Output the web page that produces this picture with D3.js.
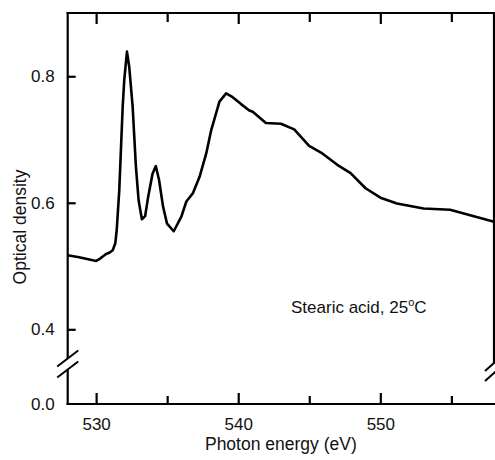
<!DOCTYPE html>
<html>
<head>
<meta charset="utf-8">
<script src="https://cdn.jsdelivr.net/npm/d3@7"></script>
<style>
  html, body { margin: 0; padding: 0; background: #fff; }
  svg { display: block; font-family: "Liberation Sans", Arial, Helvetica, sans-serif; }
</style>
</head>
<body>
<svg id="chart" width="495" height="460"></svg>
<script>
// ---- data ----
const energy = [528.0, 528.8, 530.0, 530.23, 530.47, 530.7, 530.93, 531.17, 531.35, 531.45, 531.63, 531.87, 531.98, 532.17, 532.33, 532.57, 532.8, 532.99, 533.22, 533.45, 533.66, 533.97, 534.2, 534.43, 534.71, 534.99, 535.46, 536.0, 536.35, 536.81, 537.28, 537.75, 538.1, 538.68, 539.15, 539.61, 540.2, 540.78, 541.02, 541.95, 543.0, 543.94, 544.99, 545.92, 546.97, 547.91, 548.96, 550.01, 551.17, 553.04, 554.91, 558.0];
const density = [0.517, 0.514, 0.508, 0.511, 0.515, 0.519, 0.521, 0.525, 0.536, 0.557, 0.62, 0.752, 0.794, 0.839, 0.815, 0.752, 0.657, 0.604, 0.574, 0.579, 0.609, 0.646, 0.658, 0.636, 0.594, 0.567, 0.555, 0.578, 0.602, 0.615, 0.641, 0.678, 0.715, 0.76, 0.773, 0.767, 0.756, 0.746, 0.744, 0.726, 0.725, 0.716, 0.69, 0.678, 0.66, 0.647, 0.623, 0.608, 0.599, 0.591, 0.589, 0.57];
const xMajorTicks = [530, 540, 550];
const xMinorTicks = [535, 545, 555];
const yTicks = [0.4, 0.6, 0.8];
const yZeroTick = [0.0];
const xTitle = "Photon energy (eV)";
const yTitle = "Optical density";
const annotation = "Stearic acid, 25";

// ---- layout ----
const W = 495, H = 460;
const L = 67.7, R = 494, T = 13, B = 404;
const breakGap = 74.7; // px between 0.0 and 0.4 (broken axis)

const svg = d3.select("#chart");

const x = d3.scaleLinear().domain([528, 558]).range([L, R]);
const y = d3.scaleLinear().domain([0, 0.4, 0.9]).range([B, B - breakGap, T]);

const axisColor = "#000";
const g = svg.append("g");

// curve
const line = d3.line().x((d, i) => x(energy[i])).y(d => y(d)).curve(d3.curveLinear);
g.append("path").datum(density)
  .attr("d", line)
  .attr("fill", "none")
  .attr("stroke", "#000")
  .attr("stroke-width", 2.6)
  .attr("stroke-linejoin", "round");

// axes via d3 axis generators (inward ticks)
const bottomMajor = d3.axisBottom(x).tickValues(xMajorTicks).tickSizeInner(-11).tickSizeOuter(0).tickPadding(14).tickFormat(d3.format("d"));
const bottomMinor = d3.axisBottom(x).tickValues(xMinorTicks).tickSizeInner(-8).tickSizeOuter(0).tickFormat("");
const topMajor = d3.axisTop(x).tickValues(xMajorTicks).tickSizeInner(-11).tickSizeOuter(0).tickFormat("");
const topMinor = d3.axisTop(x).tickValues(xMinorTicks).tickSizeInner(-9).tickSizeOuter(0).tickFormat("");
const leftAx = d3.axisLeft(y).tickValues(yTicks).tickSizeInner(-8).tickSizeOuter(0).tickPadding(13).tickFormat(d3.format(".1f"));
const leftZero = d3.axisLeft(y).tickValues(yZeroTick).tickSizeInner(0).tickSizeOuter(0).tickPadding(13).tickFormat(d3.format(".1f"));

function styleAxis(sel) {
  sel.select(".domain").remove();
  sel.selectAll(".tick line").attr("stroke", axisColor).attr("stroke-width", 2.2);
  sel.selectAll(".tick text").attr("fill", "#111").attr("font-size", 17)
    .attr("font-family", '"Liberation Sans", Arial, sans-serif');
}

g.append("g").attr("transform", `translate(0,${B})`).call(bottomMajor).call(styleAxis);
g.append("g").attr("transform", `translate(0,${B})`).call(bottomMinor).call(styleAxis);
g.append("g").attr("transform", `translate(0,${T})`).call(topMajor).call(styleAxis);
g.append("g").attr("transform", `translate(0,${T})`).call(topMinor).call(styleAxis);
g.append("g").attr("transform", `translate(${L},0)`).call(leftAx).call(styleAxis);
g.append("g").attr("transform", `translate(${L},0)`).call(leftZero).call(styleAxis);

// frame lines
const lw = 2.2;
// bottom
g.append("line").attr("x1", L - lw/2).attr("x2", R + 2).attr("y1", B).attr("y2", B).attr("stroke", axisColor).attr("stroke-width", lw);
// top
g.append("line").attr("x1", L - lw/2).attr("x2", R + 2).attr("y1", T).attr("y2", T).attr("stroke", axisColor).attr("stroke-width", lw);
// left (full, break drawn over it)
g.append("line").attr("x1", L).attr("x2", L).attr("y1", T - lw/2).attr("y2", B + lw/2).attr("stroke", axisColor).attr("stroke-width", lw);
// right (only down to the break)
const rBreak1 = 363, rBreak2 = 373;
g.append("line").attr("x1", R).attr("x2", R).attr("y1", T - lw/2).attr("y2", rBreak1).attr("stroke", axisColor).attr("stroke-width", lw);

// axis breaks
function drawBreak(cx, y1, y2, hw, hh) {
  // white band hiding the axis between the slashes
  g.append("polygon")
    .attr("points", [[cx - hw, y1 + hh], [cx + hw, y1 - hh], [cx + hw, y2 - hh], [cx - hw, y2 + hh]].map(p => p.join(",")).join(" "))
    .attr("fill", "#fff");
  [y1, y2].forEach(yc => {
    g.append("line")
      .attr("x1", cx - hw).attr("y1", yc + hh)
      .attr("x2", cx + hw).attr("y2", yc - hh)
      .attr("stroke", axisColor).attr("stroke-width", 2);
  });
}
drawBreak(L, 358.5, 369.5, 10.5, 8);
drawBreak(R, rBreak1, rBreak2, 9, 8);

// axis titles
svg.append("text")
  .attr("x", (L + R) / 2).attr("y", 450)
  .attr("text-anchor", "middle")
  .attr("font-size", 17.5).attr("fill", "#111")
  .text(xTitle);

svg.append("text")
  .attr("transform", `translate(26,227) rotate(-90)`)
  .attr("text-anchor", "middle")
  .attr("font-size", 17.5).attr("fill", "#111")
  .text(yTitle);

// annotation
const ann = svg.append("text")
  .attr("x", 291).attr("y", 313)
  .attr("font-size", 17).attr("fill", "#111");
ann.append("tspan").text(annotation);
ann.append("tspan").attr("font-size", 11).attr("dy", -7).text("o");
ann.append("tspan").attr("dy", 7).text("C");
</script>
</body>
</html>
